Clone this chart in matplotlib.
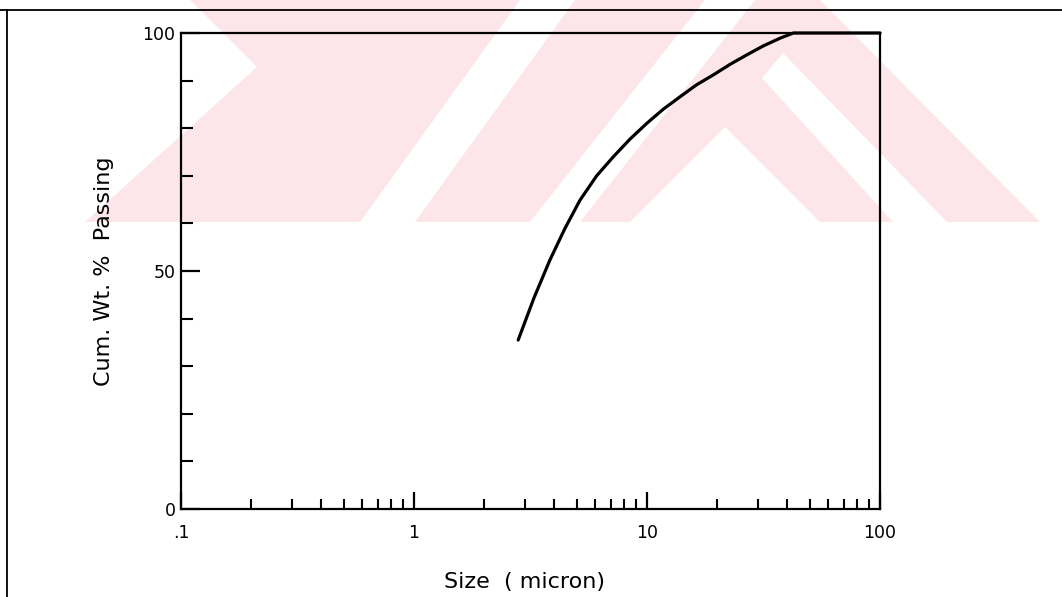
import matplotlib
matplotlib.use("Agg")
import matplotlib.pyplot as plt
from matplotlib.lines import Line2D
from matplotlib.patches import Polygon
from matplotlib.ticker import FixedLocator, NullFormatter

# particle size distribution
size_um = [2.80, 3.27, 3.83, 4.45, 5.16, 6.08, 7.17, 8.45, 9.97, 11.75,
           13.86, 16.3, 19.26, 22.7, 26.8, 31.6, 37.2, 42.5, 100.0]
passing = [35.5, 44.3, 52.3, 59.0, 64.9, 70.0, 74.0, 77.7, 81.0, 84.0,
           86.6, 89.1, 91.2, 93.4, 95.4, 97.3, 98.9, 100.0, 100.0]

x_ticks = [0.1, 1, 10, 100]
x_labels = [".1", "1", "10", "100"]
y_ticks = [0, 50, 100]
y_minor = [10, 20, 30, 40, 60, 70, 80, 90]

W, H = 1062, 597
PINK = "#fce6ea"


def px(points):
    # pixel coords (origin top-left) -> figure fraction
    return [(x / W, 1 - y / H) for x, y in points]


fig = plt.figure(figsize=(W / 100, H / 100), dpi=100)
fig.patch.set_facecolor("white")

# faint watermark band behind the page content
band = [(85, 222), (257, 67), (190, 0), (820, 0), (1040, 222)]
gaps = [
    [(360, 222), (415, 222), (575, 0), (520, 0)],
    [(530, 222), (580, 222), (755, 0), (705, 0)],
    [(630, 222), (725, 127), (820, 222)],
    [(893, 222), (762, 78), (783, 53), (947, 222)],
]
fig.patches.append(Polygon(px(band), closed=True, transform=fig.transFigure,
                           facecolor=PINK, edgecolor="none", zorder=-2))
for g in gaps:
    fig.patches.append(Polygon(px(g), closed=True, transform=fig.transFigure,
                               facecolor="white", edgecolor="none", zorder=-1))

# page frame lines
fig.lines.append(Line2D([0, 1], [1 - 10 / H, 1 - 10 / H], transform=fig.transFigure,
                        color="black", lw=1.3))
fig.lines.append(Line2D([7 / W, 7 / W], [0, 1 - 10 / H], transform=fig.transFigure,
                        color="black", lw=1.3))

ax = fig.add_axes([181 / W, 88 / H, 699 / W, 476 / H])
ax.set_zorder(2)
ax.patch.set_alpha(0)
ax.plot(size_um, passing, color="black", lw=2.3, solid_capstyle="round",
        solid_joinstyle="round", clip_on=False)

ax.set_xscale("log")
ax.set_xlim(0.1, 100)
ax.set_ylim(0, 100)

ax.xaxis.set_major_locator(FixedLocator(x_ticks))
ax.set_xticklabels(x_labels)
minor_x = [m * d for d in (0.1, 1, 10) for m in range(2, 10)]
ax.xaxis.set_minor_locator(FixedLocator(minor_x))
ax.xaxis.set_minor_formatter(NullFormatter())

ax.yaxis.set_major_locator(FixedLocator(y_ticks))
ax.yaxis.set_minor_locator(FixedLocator(y_minor))
ax.yaxis.set_minor_formatter(NullFormatter())

for s in ax.spines.values():
    s.set_linewidth(1.6)

ax.tick_params(axis="x", which="major", direction="in", length=12, width=1.6,
               pad=11, labelsize=12.5)
ax.tick_params(axis="x", which="minor", direction="in", length=7, width=1.5)
ax.tick_params(axis="y", which="major", direction="in", length=14, width=1.6,
               pad=4, labelsize=12.5)
ax.tick_params(axis="y", which="minor", direction="in", length=8.5, width=1.5)

ax.set_ylabel("Cum. Wt. %  Passing", fontsize=16)
ax.yaxis.set_label_coords(-0.096, 0.5)
ax.set_xlabel("Size  ( micron)", fontsize=16)
ax.xaxis.set_label_coords(0.492, -0.132)

fig.savefig("out.png", dpi=100)
